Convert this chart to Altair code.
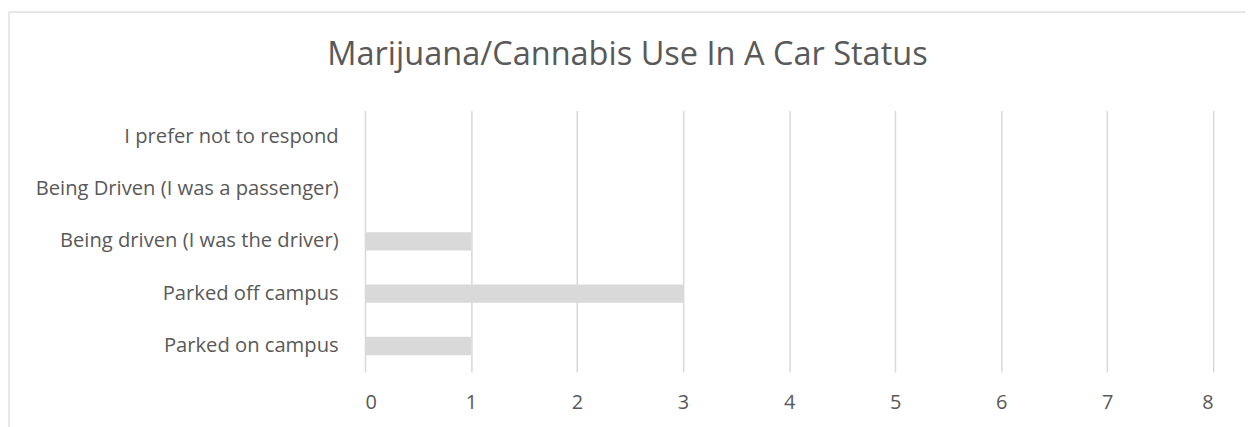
import altair as alt
import pandas as pd

categories = [
    "I prefer not to respond",
    "Being Driven (I was a passenger)",
    "Being driven (I was the driver)",
    "Parked off campus",
    "Parked on campus",
]
counts = [0, 0, 1, 3, 1]
x_ticks = [0, 1, 2, 3, 4, 5, 6, 7, 8]
title_text = "Marijuana/Cannabis Use In A Car Status"

df = pd.DataFrame({"status": categories, "count": counts})

FONT = "Open Sans"
TEXT = "#595959"
GRID = "#d9d9d9"

bars = alt.Chart(df).mark_bar(color=GRID).encode(
    x=alt.X(
        "count:Q",
        scale=alt.Scale(domain=[0, 8], nice=False),
        axis=alt.Axis(
            values=x_ticks,
            title=None,
            domain=False,
            ticks=False,
            grid=True,
            gridColor=GRID,
            gridWidth=1.5,
            labelFont=FONT,
            labelFontSize=20,
            labelColor=TEXT,
            labelPadding=21,
        ),
    ),
    y=alt.Y(
        "status:N",
        sort=categories,
        scale=alt.Scale(paddingInner=0.65, paddingOuter=0.325),
        axis=alt.Axis(
            title=None,
            domain=False,
            ticks=False,
            grid=False,
            labelFont=FONT,
            labelFontSize=20.3,
            labelColor=TEXT,
            labelPadding=27,
            labelLimit=500,
        ),
    ),
)

one = alt.Data(values=[{"t": title_text}])
top_border = alt.Chart(one).mark_rule(color=GRID, strokeWidth=1.2).encode(
    x=alt.value(-358), x2=alt.value(890), y=alt.value(-99)
)
left_border = alt.Chart(one).mark_rule(color=GRID, strokeWidth=1.2).encode(
    x=alt.value(-358), y=alt.value(-99), y2=alt.value(340)
)
title = alt.Chart(one).mark_text(
    font=FONT, fontSize=32.7, color=TEXT, align="center", baseline="alphabetic"
).encode(text="t:N", x=alt.value(264), y=alt.value(-46))

chart = (
    alt.layer(bars, top_border, left_border, title)
    .properties(
        width=853,
        height=263,
        background="white",
        autosize=alt.AutoSizeParams(type="none"),
        padding={"left": 359, "top": 102, "right": 32, "bottom": 54},
    )
    .configure_view(stroke="transparent", strokeWidth=0)
)

chart.save("out.html", embed_options={"renderer": "svg", "actions": False})
